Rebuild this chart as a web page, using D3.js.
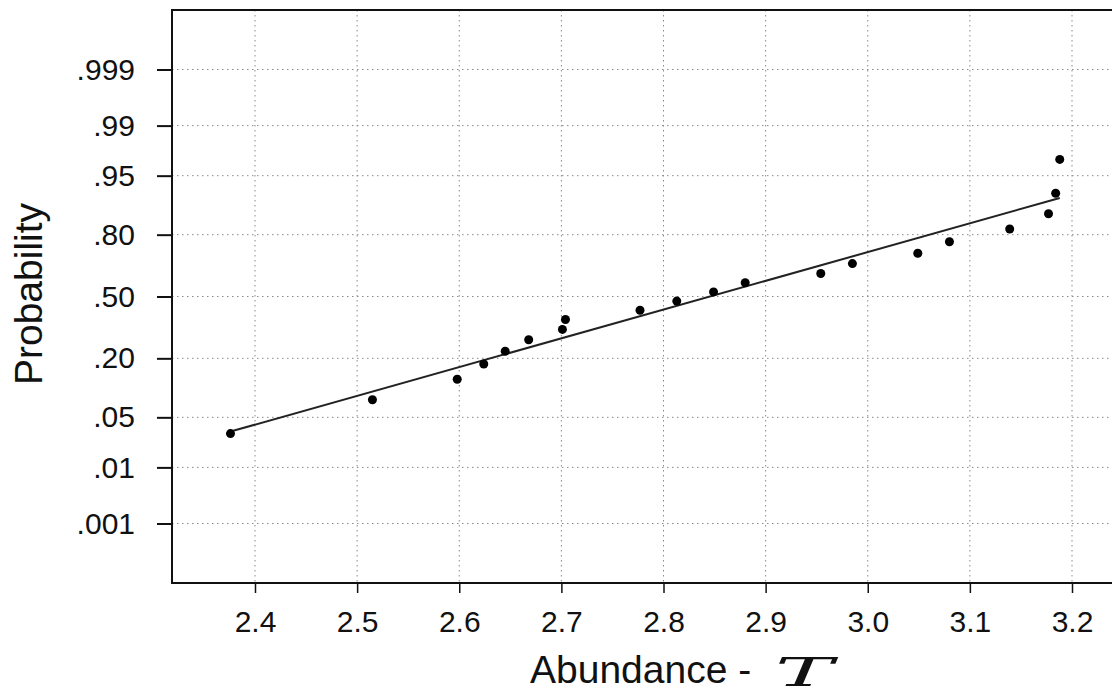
<!DOCTYPE html>
<html>
<head>
<meta charset="utf-8">
<script src="https://cdn.jsdelivr.net/npm/d3@7"></script>
<style>
  html, body { margin: 0; padding: 0; background: #fff; }
  svg { display: block; }
  text { font-family: "Liberation Sans", Arial, Helvetica, sans-serif; fill: #111; }
</style>
</head>
<body>
<svg id="chart" width="1112" height="698"></svg>
<script>
// ---- data ----
const abundance = [2.376, 2.515, 2.598, 2.624, 2.645, 2.668, 2.701, 2.704, 2.777, 2.813,
                   2.849, 2.880, 2.954, 2.985, 3.049, 3.080, 3.139, 3.177, 3.184, 3.188];
const probability = [0.031, 0.080, 0.130, 0.179, 0.228, 0.278, 0.327, 0.377, 0.426, 0.475,
                     0.525, 0.574, 0.623, 0.673, 0.722, 0.772, 0.821, 0.870, 0.920, 0.969];
const fitAbundance = [2.376, 3.188];
const fitProbability = [0.033, 0.910];
const xTicks = [2.4, 2.5, 2.6, 2.7, 2.8, 2.9, 3.0, 3.1, 3.2];
const xTickLabels = ["2.4", "2.5", "2.6", "2.7", "2.8", "2.9", "3.0", "3.1", "3.2"];
const probTicks = [0.999, 0.99, 0.95, 0.80, 0.50, 0.20, 0.05, 0.01, 0.001];
const probTickLabels = [".999", ".99", ".95", ".80", ".50", ".20", ".05", ".01", ".001"];
const xTitle = "Abundance - ";
const xTitleSymbol = "T";
const yTitle = "Probability";

// inverse standard normal CDF (Acklam) for the probability scale
function probit(p) {
  const a = [-3.969683028665376e+01, 2.209460984245205e+02, -2.759285104469687e+02,
             1.383577518672690e+02, -3.066479806614716e+01, 2.506628277459239e+00];
  const b = [-5.447609879822406e+01, 1.615858368580409e+02, -1.556989798598866e+02,
             6.680131188771972e+01, -1.328068155288572e+01];
  const c = [-7.784894002430293e-03, -3.223964580411365e-01, -2.400758277161838e+00,
             -2.549732539343734e+00, 4.374664141464968e+00, 2.938163982698783e+00];
  const d = [7.784695709041462e-03, 3.224671290700398e-01, 2.445134137142996e+00,
             3.754408661907416e+00];
  const pl = 0.02425, ph = 1 - pl;
  let q, r;
  if (p < pl) {
    q = Math.sqrt(-2 * Math.log(p));
    return (((((c[0]*q+c[1])*q+c[2])*q+c[3])*q+c[4])*q+c[5]) /
           ((((d[0]*q+d[1])*q+d[2])*q+d[3])*q+1);
  } else if (p <= ph) {
    q = p - 0.5; r = q * q;
    return (((((a[0]*r+a[1])*r+a[2])*r+a[3])*r+a[4])*r+a[5])*q /
           (((((b[0]*r+b[1])*r+b[2])*r+b[3])*r+b[4])*r+1);
  } else {
    q = Math.sqrt(-2 * Math.log(1 - p));
    return -(((((c[0]*q+c[1])*q+c[2])*q+c[3])*q+c[4])*q+c[5]) /
            ((((d[0]*q+d[1])*q+d[2])*q+d[3])*q+1);
  }
}

// ---- layout ----
const plotLeft = 172, plotTop = 10, plotBottom = 583, plotRight = 1140;
const svg = d3.select("#chart");

const x = d3.scaleLinear().domain([2.4, 3.2]).range([255, 1072]);
const yz = d3.scaleLinear().domain([-3.9, 3.9]).range([plotBottom, plotTop]);
const y = p => yz(probit(p));

// gridlines (dotted)
const grid = svg.append("g")
  .attr("stroke", "#8a8a8a").attr("stroke-width", 1).attr("stroke-dasharray", "1.5,3.5");
grid.selectAll("line.h").data(probTicks).join("line")
  .attr("class", "h")
  .attr("x1", plotLeft).attr("x2", plotRight)
  .attr("y1", d => y(d)).attr("y2", d => y(d));
grid.selectAll("line.v").data(xTicks).join("line")
  .attr("class", "v")
  .attr("x1", d => x(d)).attr("x2", d => x(d))
  .attr("y1", plotTop).attr("y2", plotBottom);

// frame
svg.append("rect")
  .attr("x", plotLeft).attr("y", plotTop)
  .attr("width", plotRight - plotLeft).attr("height", plotBottom - plotTop)
  .attr("fill", "none").attr("stroke", "#111").attr("stroke-width", 2);

// y axis
const yAxis = d3.axisLeft(yz)
  .tickValues(probTicks.map(probit))
  .tickSize(15).tickPadding(22)
  .tickFormat((d, i) => probTickLabels[i]);
const gy = svg.append("g").attr("transform", `translate(${plotLeft},0)`).call(yAxis);
gy.select(".domain").remove();
gy.selectAll(".tick line").attr("stroke", "#111").attr("stroke-width", 2);
gy.selectAll(".tick text").attr("font-size", 30).attr("fill", "#111")
  .style("font-family", '"Liberation Sans", Arial, sans-serif');

// x axis
const xAxis = d3.axisBottom(x)
  .tickValues(xTicks)
  .tickSize(10).tickPadding(18)
  .tickFormat((d, i) => xTickLabels[i]);
const gx = svg.append("g").attr("transform", `translate(0,${plotBottom})`).call(xAxis);
gx.select(".domain").remove();
gx.selectAll(".tick line").attr("stroke", "#111").attr("stroke-width", 1.5);
gx.selectAll(".tick text").attr("font-size", 30).attr("fill", "#111")
  .style("font-family", '"Liberation Sans", Arial, sans-serif');

// fit line
const fit = fitAbundance.map((a, i) => [a, fitProbability[i]]);
svg.append("path")
  .datum(fit)
  .attr("d", d3.line().x(d => x(d[0])).y(d => y(d[1])))
  .attr("fill", "none").attr("stroke", "#222").attr("stroke-width", 2);

// points
svg.append("g").selectAll("circle")
  .data(abundance.map((a, i) => [a, probability[i]]))
  .join("circle")
  .attr("cx", d => x(d[0])).attr("cy", d => y(d[1]))
  .attr("r", 4.5).attr("fill", "#000");

// axis titles
svg.append("text")
  .attr("transform", `translate(42,294) rotate(-90)`)
  .attr("text-anchor", "middle")
  .attr("font-size", 39)
  .text(yTitle);

svg.append("text")
  .attr("x", 530).attr("y", 683)
  .attr("font-size", 39)
  .text(xTitle);

svg.append("text")
  .attr("x", 775).attr("y", 686)
  .attr("font-size", 40)
  .attr("textLength", 58).attr("lengthAdjust", "spacingAndGlyphs")
  .style("font-family", '"DejaVu Serif", serif')
  .style("font-style", "italic")
  .style("font-weight", "300")
  .text(xTitleSymbol);
</script>
</body>
</html>
